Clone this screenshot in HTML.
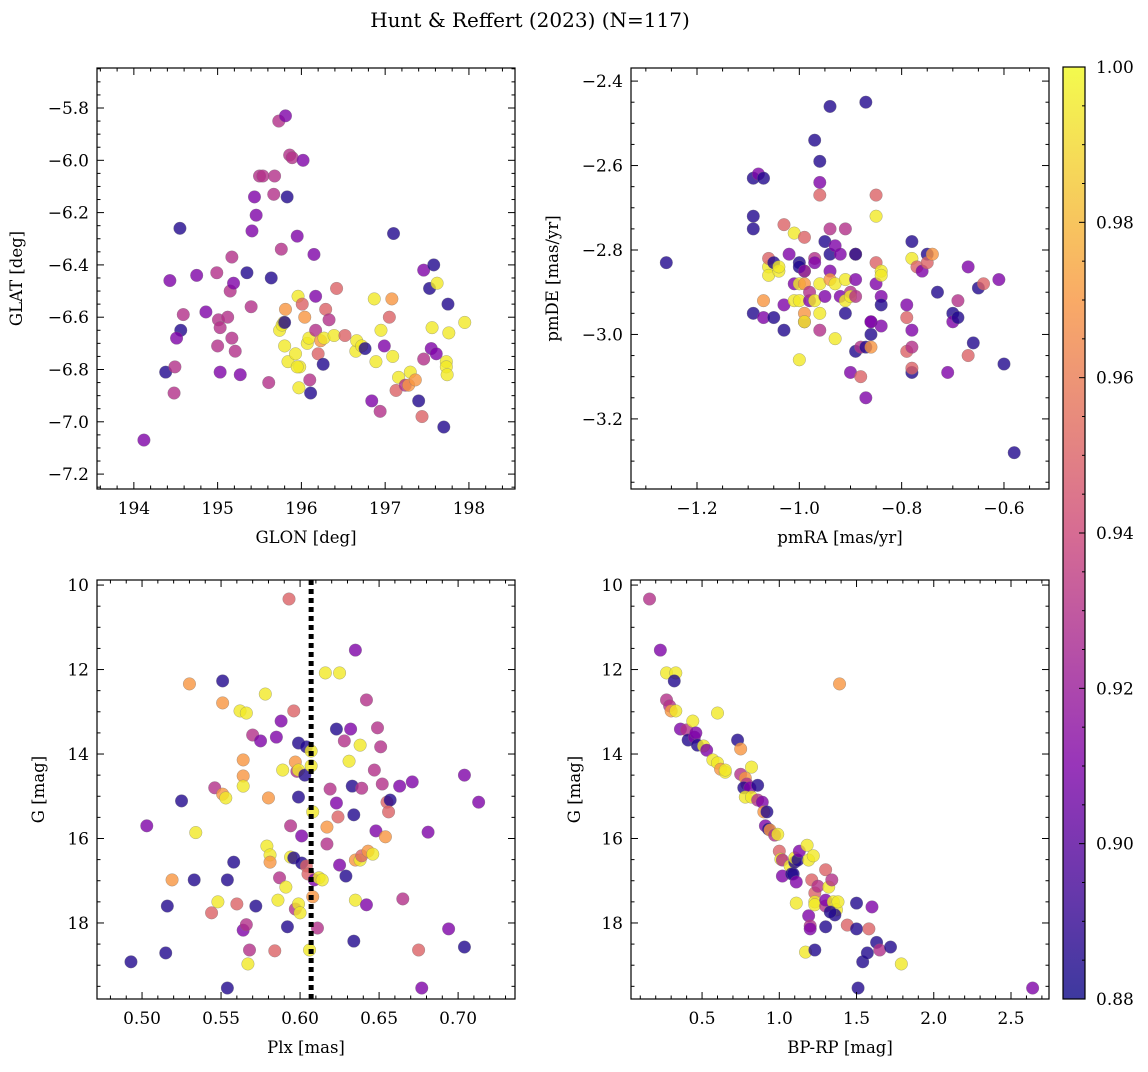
<!DOCTYPE html>
<html><head><meta charset="utf-8"><style>
body{margin:0;background:#fff;}
svg text{font-family:"DejaVu Serif","Liberation Serif",serif;fill:#000;}
</style></head><body>
<svg id="fig" width="1148" height="1067" xmlns="http://www.w3.org/2000/svg">
<defs><linearGradient id="plasma" x1="0" y1="1" x2="0" y2="0">
<stop offset="0" stop-color="#0d0887"/><stop offset="0.25" stop-color="#7e03a8"/><stop offset="0.5" stop-color="#cc4778"/><stop offset="0.75" stop-color="#f89540"/><stop offset="1" stop-color="#f0f921"/>
</linearGradient></defs>
<text x="530" y="27" font-size="20" text-anchor="middle">Hunt &amp; Reffert (2023) (N=117)</text>
</svg>
<script>
// Panel 1: GLON / GLAT
const glon=[194.38,194.43,194.49,194.55,194.59,194.56,194.51,194.48,194.12,194.75,194.86,194.99,195.01,195.03,195.00,195.03,195.12,195.15,195.17,195.19,195.17,195.21,195.27,195.35,195.40,195.41,195.46,195.44,195.50,195.54,195.61,195.64,195.67,195.68,195.73,195.81,195.76,195.74,195.77,195.79,195.81,195.80,195.84,195.80,195.86,195.89,195.83,195.95,195.98,195.95,195.97,196.02,195.93,195.96,196.01,196.04,196.07,196.09,196.10,196.11,196.15,196.17,196.17,196.20,196.23,196.26,196.27,196.29,196.33,196.39,196.42,196.52,196.65,196.66,196.72,196.76,196.84,196.87,196.89,196.94,196.95,196.99,197.05,197.08,197.10,197.09,197.13,197.16,197.24,197.30,197.28,197.36,197.40,197.44,197.46,197.46,197.55,197.53,197.58,197.56,197.61,197.62,197.73,197.73,197.74,197.75,197.76,197.70,197.95];
const glat=[-6.81,-6.46,-6.79,-6.26,-6.59,-6.65,-6.68,-6.89,-7.07,-6.44,-6.58,-6.43,-6.61,-6.64,-6.71,-6.81,-6.60,-6.50,-6.37,-6.47,-6.68,-6.73,-6.82,-6.43,-6.56,-6.27,-6.21,-6.14,-6.06,-6.06,-6.85,-6.45,-6.13,-6.06,-5.85,-5.83,-6.34,-6.65,-6.63,-6.62,-6.57,-6.71,-6.77,-6.62,-5.98,-5.99,-6.14,-6.29,-6.79,-6.79,-6.87,-6.00,-6.74,-6.52,-6.55,-6.60,-6.70,-6.68,-6.84,-6.89,-6.36,-6.52,-6.65,-6.74,-6.69,-6.78,-6.68,-6.57,-6.61,-6.67,-6.49,-6.67,-6.73,-6.69,-6.71,-6.72,-6.92,-6.53,-6.77,-6.96,-6.65,-6.71,-6.60,-6.53,-6.28,-6.75,-6.88,-6.83,-6.86,-6.81,-6.86,-6.84,-6.92,-6.98,-6.42,-6.76,-6.72,-6.49,-6.40,-6.64,-6.74,-6.47,-6.77,-6.79,-6.82,-6.55,-6.66,-7.02,-6.62];
const prob1=[.885,.91,.93,.885,.93,.885,.91,.93,.91,.91,.91,.93,.93,.93,.93,.91,.93,.93,.93,.91,.93,.93,.91,.885,.93,.91,.91,.91,.93,.93,.93,.885,.93,.93,.93,.91,.93,.995,.995,.995,.97,.995,.995,.885,.93,.93,.885,.91,.995,.995,.995,.91,.995,.995,.95,.97,.995,.995,.93,.885,.91,.91,.93,.95,.97,.885,.995,.95,.93,.995,.95,.95,.995,.995,.995,.885,.91,.995,.995,.93,.995,.91,.95,.97,.885,.995,.95,.995,.93,.995,.97,.97,.885,.95,.91,.93,.91,.885,.885,.995,.91,.995,.995,.995,.995,.885,.995,.885,.995];
// Panel 2: pmRA / pmDE
const pmra=[-1.26,-1.09,-1.09,-1.09,-1.09,-1.08,-1.07,-1.07,-1.07,-1.06,-1.06,-1.06,-1.05,-1.05,-1.04,-1.04,-1.03,-1.03,-1.03,-1.02,-1.01,-1.01,-1.00,-1.01,-1.00,-1.00,-1.00,-0.99,-1.00,-0.99,-0.99,-0.99,-0.99,-0.99,-0.99,-0.98,-0.98,-0.97,-0.97,-0.97,-0.96,-0.97,-0.96,-0.96,-0.96,-0.96,-0.96,-0.95,-0.94,-0.95,-0.94,-0.94,-0.94,-0.94,-0.93,-0.93,-0.93,-0.92,-0.92,-0.91,-0.91,-0.91,-0.91,-0.90,-0.90,-0.90,-0.89,-0.89,-0.89,-0.89,-0.89,-0.88,-0.88,-0.87,-0.87,-0.87,-0.86,-0.86,-0.86,-0.86,-0.85,-0.85,-0.85,-0.85,-0.84,-0.84,-0.84,-0.84,-0.84,-0.79,-0.79,-0.78,-0.78,-0.78,-0.78,-0.78,-0.78,-0.77,-0.76,-0.75,-0.75,-0.74,-0.79,-0.73,-0.70,-0.70,-0.69,-0.69,-0.66,-0.67,-0.65,-0.64,-0.67,-0.71,-0.61,-0.60,-0.58];
const pmde=[-2.83,-2.95,-2.75,-2.72,-2.63,-2.62,-2.63,-2.96,-2.92,-2.84,-2.82,-2.86,-2.96,-2.83,-2.85,-2.84,-2.74,-2.99,-2.93,-2.81,-2.88,-2.92,-2.83,-2.76,-2.92,-3.06,-2.88,-2.85,-2.84,-2.97,-2.77,-2.88,-2.95,-2.97,-2.85,-2.92,-2.90,-2.82,-2.83,-2.92,-2.88,-2.54,-2.59,-2.64,-2.67,-2.95,-2.99,-2.91,-2.81,-2.78,-2.85,-2.87,-2.46,-2.75,-2.79,-2.88,-3.01,-2.91,-2.81,-2.92,-2.95,-2.75,-2.87,-3.09,-2.90,-2.91,-3.04,-2.87,-2.81,-2.91,-2.81,-3.03,-3.10,-2.45,-3.15,-3.03,-2.97,-3.00,-3.03,-2.97,-2.83,-2.72,-2.67,-2.88,-2.85,-2.86,-2.91,-2.98,-2.93,-2.96,-3.04,-3.09,-3.08,-3.03,-2.99,-2.78,-2.82,-2.84,-2.85,-2.81,-2.83,-2.81,-2.93,-2.90,-2.95,-2.97,-2.96,-2.92,-3.02,-3.05,-2.89,-2.88,-2.84,-3.09,-2.87,-3.07,-3.28];
const prob2=[.885,.885,.885,.885,.885,.91,.885,.91,.97,.995,.95,.995,.885,.885,.995,.995,.95,.885,.91,.91,.91,.995,.885,.995,.995,.995,.995,.995,.885,.93,.95,.97,.97,.995,.91,.91,.93,.93,.91,.995,.995,.885,.885,.91,.95,.995,.93,.91,.885,.885,.91,.97,.885,.93,.91,.995,.995,.91,.91,.995,.885,.93,.995,.91,.93,.995,.885,.91,.95,.93,.885,.93,.95,.885,.91,.885,.91,.885,.97,.91,.95,.995,.95,.91,.995,.995,.91,.91,.885,.95,.95,.885,.95,.93,.91,.885,.995,.95,.91,.885,.95,.97,.91,.885,.885,.91,.885,.93,.885,.95,.885,.95,.91,.91,.91,.885,.885];
// Panel 3: Plx / G
const plx=[0.493,0.503,0.515,0.516,0.519,0.525,0.530,0.533,0.534,0.551,0.551,0.546,0.544,0.548,0.551,0.553,0.554,0.558,0.560,0.562,0.564,0.564,0.566,0.564,0.564,0.566,0.567,0.568,0.570,0.572,0.575,0.578,0.580,0.579,0.581,0.581,0.584,0.585,0.586,0.587,0.588,0.589,0.591,0.592,0.593,0.594,0.594,0.596,0.596,0.597,0.598,0.599,0.599,0.599,0.600,0.597,0.599,0.601,0.601,0.603,0.604,0.604,0.605,0.606,0.607,0.607,0.608,0.608,0.609,0.611,0.612,0.614,0.616,0.617,0.617,0.619,0.623,0.623,0.624,0.625,0.625,0.628,0.629,0.631,0.632,0.633,0.634,0.634,0.635,0.635,0.635,0.638,0.638,0.639,0.639,0.642,0.642,0.643,0.646,0.647,0.648,0.649,0.651,0.652,0.654,0.655,0.657,0.656,0.663,0.665,0.671,0.675,0.677,0.681,0.554,0.694,0.704,0.704,0.713];
const gmag3=[18.92,15.70,18.71,17.60,16.98,15.11,12.34,16.98,15.86,12.27,12.79,14.80,17.76,17.50,14.95,15.04,16.98,16.56,17.55,12.98,14.14,14.52,13.03,14.76,18.17,18.04,18.97,18.64,13.55,17.60,13.69,12.58,15.04,16.18,16.39,16.56,18.66,13.60,17.46,16.93,13.22,14.38,17.15,18.09,10.33,15.70,16.44,12.98,16.46,17.67,14.41,13.74,15.02,17.55,17.76,14.19,14.38,16.58,15.94,14.50,13.83,16.65,16.84,18.64,14.28,13.93,17.38,15.37,16.98,18.12,16.93,16.98,12.08,15.73,16.13,14.83,13.41,15.16,15.49,12.08,16.63,13.69,16.89,14.17,13.41,14.76,15.44,18.43,16.51,17.46,11.54,13.79,16.51,16.41,14.81,12.72,17.57,16.30,16.37,14.38,15.82,13.38,13.83,14.71,15.96,15.14,15.09,15.37,14.76,17.43,14.66,18.64,19.54,15.85,19.54,18.14,14.50,18.57,15.14];
const prob3=[.885,.91,.885,.885,.97,.885,.97,.885,.995,.885,.97,.93,.95,.995,.97,.995,.885,.885,.95,.995,.97,.97,.995,.995,.91,.93,.995,.93,.93,.885,.91,.995,.97,.995,.995,.97,.95,.91,.995,.93,.91,.995,.995,.885,.95,.93,.995,.95,.885,.93,.93,.885,.885,.995,.995,.97,.995,.885,.91,.885,.885,.95,.95,.995,.995,.995,.97,.995,.91,.93,.995,.995,.995,.97,.93,.93,.885,.91,.95,.995,.91,.93,.885,.995,.91,.885,.885,.885,.97,.995,.91,.995,.995,.95,.93,.93,.91,.97,.995,.93,.91,.93,.93,.93,.97,.95,.885,.95,.91,.93,.91,.95,.91,.91,.885,.91,.91,.885,.91];
// Panel 4: BP-RP / G
const bprp=[0.16,0.23,0.27,0.33,0.32,0.27,0.29,0.30,0.33,0.36,0.40,0.44,0.41,0.45,0.46,0.47,0.51,0.53,0.60,0.57,0.60,0.62,0.65,0.65,0.73,0.75,0.75,0.78,0.79,0.77,0.81,0.78,0.82,0.82,0.86,0.86,0.89,0.90,0.91,0.92,0.93,0.94,0.97,0.99,1.00,1.01,1.02,1.02,1.07,1.08,1.09,1.10,1.10,1.11,1.11,1.12,1.13,1.17,1.18,1.19,1.19,1.20,1.20,1.21,1.23,1.23,1.23,1.22,1.23,1.25,1.30,1.30,1.30,1.32,1.34,1.35,1.37,1.36,1.33,1.38,1.39,1.30,1.44,1.50,1.50,1.51,1.54,1.57,1.58,1.60,1.63,1.65,1.72,1.79,2.64];
const gmag4=[10.33,11.54,12.08,12.08,12.27,12.72,12.86,12.98,12.98,13.41,13.43,13.22,13.67,13.60,13.50,13.79,13.81,13.91,13.03,14.14,14.21,14.36,14.43,14.38,13.67,13.88,14.48,14.57,14.71,14.80,14.80,15.02,15.02,14.31,14.74,15.09,15.14,15.37,15.70,15.37,15.78,15.80,15.92,15.90,16.30,16.49,16.51,16.89,16.65,16.84,16.84,16.56,16.46,17.03,17.53,16.51,16.30,18.69,16.16,16.51,17.83,18.07,18.14,16.98,17.29,17.50,17.57,16.41,18.64,17.13,17.60,17.46,16.74,17.15,16.98,17.50,17.69,17.81,17.74,17.50,12.34,18.09,18.05,18.14,17.53,19.54,18.92,18.71,18.14,17.62,18.46,18.64,18.57,18.97,19.54];
const prob4=[.93,.91,.995,.995,.885,.93,.93,.97,.995,.91,.93,.995,.885,.91,.91,.885,.995,.91,.995,.995,.995,.97,.995,.995,.885,.97,.93,.97,.93,.885,.91,.995,.995,.995,.885,.93,.91,.97,.91,.885,.885,.97,.93,.995,.95,.995,.93,.91,.995,.885,.885,.885,.995,.91,.995,.885,.91,.995,.995,.995,.91,.93,.91,.95,.95,.995,.995,.995,.885,.93,.93,.91,.95,.995,.93,.995,.995,.885,.885,.995,.97,.885,.95,.885,.885,.885,.885,.885,.95,.91,.885,.93,.885,.995,.91];
const cbTicks=[0.88,0.90,0.92,0.94,0.96,0.98,1.00];
const plxRef=0.607;

const NS='http://www.w3.org/2000/svg';
const svg=document.getElementById('fig');
function mk(tag,attrs,parent){const e=document.createElementNS(NS,tag);for(const k in attrs)e.setAttribute(k,attrs[k]);(parent||svg).appendChild(e);return e;}
const stops=[[0,[13,8,135]],[0.25,[126,3,168]],[0.5,[204,71,120]],[0.75,[248,149,64]],[1,[240,249,33]]];
function plasma(v){let t=(v-0.88)/0.12;t=Math.max(0,Math.min(1,t));for(let i=0;i<stops.length-1;i++){const a=stops[i],b=stops[i+1];if(t<=b[0]){const f=(t-a[0])/(b[0]-a[0]);return 'rgb('+a[1].map((c,j)=>Math.round(c+(b[1][j]-c)*f)).join(',')+')';}}return 'rgb(240,249,33)';}

function panel(cfg){
  const g=mk('g',{});
  
  
  const {L,T,W,H,xmin,xmax,ymin,ymax,inv}=cfg;
  const sx=v=>L+(v-xmin)/(xmax-xmin)*W;
  const sy=v=>inv?T+(v-ymin)/(ymax-ymin)*H:T+H-(v-ymin)/(ymax-ymin)*H;
  const n=Math.min(cfg.xs.length,cfg.ys.length,cfg.cs.length);
  for(let i=0;i<n;i++){
    const c=mk('circle',{cx:sx(cfg.xs[i]),cy:sy(cfg.ys[i]),r:6.3,fill:plasma(cfg.cs[i]),'fill-opacity':0.8,stroke:'#777','stroke-width':0.5,'stroke-opacity':0.6},g);
    
    
  }
  if(cfg.vline!==undefined){
    const l=mk('line',{x1:sx(cfg.vline),x2:sx(cfg.vline),y1:T,y2:T+H,stroke:'#000','stroke-width':5,'stroke-dasharray':'5,4'},g);
    
    
  }
  const fr=mk('rect',{x:L,y:T,width:W,height:H,fill:'none',stroke:'#000','stroke-width':1.2},g);
  
  
  const eps=1e-9;
  const x0=Math.ceil((xmin-eps)/cfg.xminor)*cfg.xminor;
  for(let v=x0;v<=xmax+eps;v+=cfg.xminor){
    const major=Math.abs(v/cfg.xmajor-Math.round(v/cfg.xmajor))<1e-6;
    const len=major?7:3.5,x=sx(v);
    mk('line',{x1:x,x2:x,y1:T+H,y2:T+H-len,stroke:'#000','stroke-width':1},g);
    mk('line',{x1:x,x2:x,y1:T,y2:T+len,stroke:'#000','stroke-width':1},g);
    if(major){const t=mk('text',{x:x,y:T+H+25,'font-size':17,'text-anchor':'middle'},g);t.textContent=cfg.xfmt(Math.round(v/cfg.xmajor)*cfg.xmajor).replace('-','\u2212');
      }
  }
  const y0=Math.ceil((ymin-eps)/cfg.yminor)*cfg.yminor;
  for(let v=y0;v<=ymax+eps;v+=cfg.yminor){
    const major=Math.abs(v/cfg.ymajor-Math.round(v/cfg.ymajor))<1e-6;
    const len=major?7:3.5,y=sy(v);
    mk('line',{x1:L,x2:L+len,y1:y,y2:y,stroke:'#000','stroke-width':1},g);
    mk('line',{x1:L+W,x2:L+W-len,y1:y,y2:y,stroke:'#000','stroke-width':1},g);
    if(major){const t=mk('text',{x:L-8,y:y+6,'font-size':17,'text-anchor':'end'},g);t.textContent=cfg.yfmt(Math.round(v/cfg.ymajor)*cfg.ymajor).replace('-','\u2212');
      }
  }
  const xl=mk('text',{x:L+W/2,y:T+H+54,'font-size':16.5,'text-anchor':'middle'},g);xl.textContent=cfg.xlabel;
  
  const yx=cfg.ylx,yy=T+H/2;
  const yl=mk('text',{x:yx,y:yy,'font-size':16.5,'text-anchor':'middle',transform:`rotate(-90 ${yx} ${yy})`},g);yl.textContent=cfg.ylabel;
  
}
const f1=v=>v.toFixed(1),f0=v=>v.toFixed(0),f2=v=>v.toFixed(2);
panel({name:'glon-glat-panel',L:97,T:68,W:418,H:421,xmin:193.56,xmax:198.55,ymin:-7.257,ymax:-5.647,xmajor:1,xminor:0.2,ymajor:0.2,yminor:0.05,xs:glon,ys:glat,cs:prob1,xfmt:f0,yfmt:f1,xlabel:'GLON [deg]',ylabel:'GLAT [deg]',ylx:22});
panel({name:'proper-motion-panel',L:631,T:68,W:418,H:421,xmin:-1.329,xmax:-0.512,ymin:-3.366,ymax:-2.369,xmajor:0.2,xminor:0.05,ymajor:0.2,yminor:0.05,xs:pmra,ys:pmde,cs:prob2,xfmt:f1,yfmt:f1,xlabel:'pmRA [mas/yr]',ylabel:'pmDE [mas/yr]',ylx:558});
panel({name:'parallax-g-panel',L:97,T:580,W:418,H:419,xmin:0.4715,xmax:0.736,ymin:9.88,ymax:19.8,inv:true,xmajor:0.05,xminor:0.01,ymajor:2,yminor:0.5,xs:plx,ys:gmag3,cs:prob3,xfmt:f2,yfmt:f0,xlabel:'Plx [mas]',ylabel:'G [mag]',ylx:44,vline:plxRef});
panel({name:'cmd-panel',L:631,T:580,W:418,H:419,xmin:0.04,xmax:2.746,ymin:9.88,ymax:19.8,inv:true,xmajor:0.5,xminor:0.1,ymajor:2,yminor:0.5,xs:bprp,ys:gmag4,cs:prob4,xfmt:f1,yfmt:f0,xlabel:'BP-RP [mag]',ylabel:'G [mag]',ylx:580});
const cb=mk('g',{});


const cbL=1063,cbT=67,cbW=22,cbH=932;
mk('rect',{x:cbL,y:cbT,width:cbW,height:cbH,fill:'url(#plasma)','fill-opacity':0.8},cb);
mk('rect',{x:cbL,y:cbT,width:cbW,height:cbH,fill:'none',stroke:'#000','stroke-width':1.2},cb);
const cy=v=>cbT+cbH-(v-0.88)/0.12*cbH;
for(let v=0.88;v<=1.0001;v+=0.005){
  const major=Math.abs(v*50-Math.round(v*50))<1e-6;
  mk('line',{x1:cbL+cbW,x2:cbL+cbW-(major?6:3),y1:cy(v),y2:cy(v),stroke:'#000','stroke-width':1},cb);
}
cbTicks.forEach(v=>{const t=mk('text',{x:cbL+cbW+11,y:cy(v)+6,'font-size':17},cb);t.textContent=v.toFixed(2);
  });
</script>
</body></html>
